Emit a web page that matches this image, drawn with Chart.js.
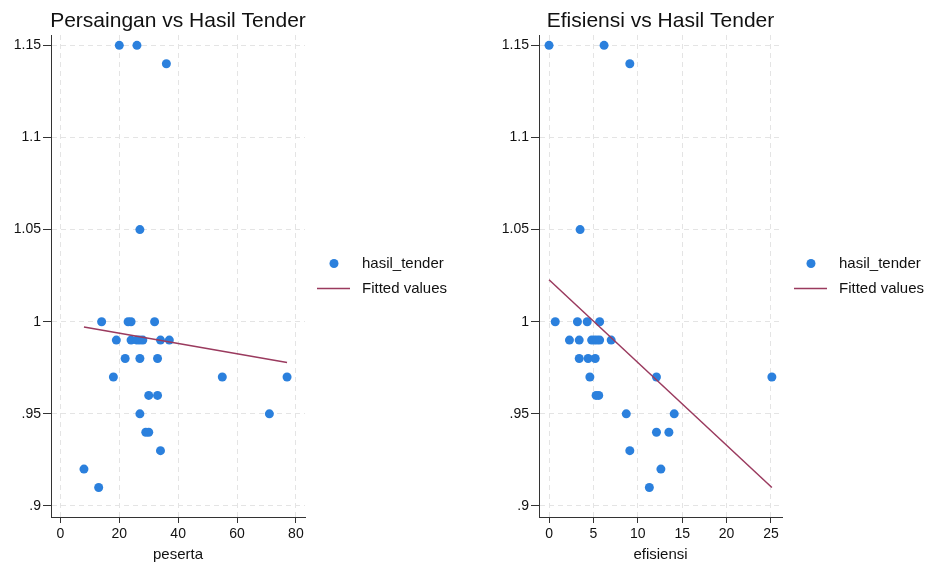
<!DOCTYPE html>
<html>
<head>
<meta charset="utf-8">
<script src="https://cdn.jsdelivr.net/npm/chart.js@4"></script>
<style>
  html, body { margin: 0; padding: 0; background: #fff; }
  #wrap { position: relative; width: 930px; height: 566px; }
  canvas { position: absolute; top: 0; }
</style>
</head>
<body>
<div id="wrap">
  <canvas id="left" width="465" height="566" style="left:0"></canvas>
  <canvas id="right" width="465" height="566" style="left:465px"></canvas>
</div>
<script>
// hasil_tender, grouped by level (same order for both x arrays)
var hasilTender = [1.15, 1.15, 1.14, 1.05,
    1.00, 1.00, 1.00, 1.00,
    0.99, 0.99, 0.99, 0.99, 0.99, 0.99, 0.99,
    0.98, 0.98, 0.98,
    0.97, 0.97, 0.97,
    0.96, 0.96,
    0.95, 0.95,
    0.94, 0.94,
    0.93, 0.92, 0.91]

var peserta = [20, 26, 36, 27,
    14, 23, 24, 32,
    19, 24, 26, 27, 28, 34, 37,
    22, 27, 33,
    18, 55, 77,
    30, 33,
    27, 71,
    29, 30,
    34, 8, 13]

var efisiensi = [0, 6.2, 9.1, 3.5,
    0.7, 3.2, 4.3, 5.7,
    2.3, 3.4, 4.8, 5.1, 5.4, 5.7, 7.0,
    3.4, 4.4, 5.2,
    4.6, 12.1, 25.1,
    5.3, 5.6,
    8.7, 14.1,
    12.1, 13.5,
    9.1, 12.6, 11.3]

// fitted line end points
var fitPesertaX = [8, 77]
var fitPesertaY = [0.9971, 0.9778]
var fitEfisiensiX = [0, 25.1]
var fitEfisiensiY = [1.0228, 0.910]

var yTicks = [0.9, 0.95, 1, 1.05, 1.1, 1.15]
var pesertaTicks = [0, 20, 40, 60, 80]
var efisiensiTicks = [0, 5, 10, 15, 20, 25]

var BLUE = '#2b80dd'
var LINE = '#9a3a5e'
var FONT = '"Liberation Sans", Arial, Helvetica, sans-serif'

Chart.defaults.font.family = FONT
Chart.defaults.color = '#111'

function fmtY(v) {
    return String(+Number(v).toFixed(2)).replace(/^0\./, '.')
}

var annot = {
    id: 'annot',
    afterDraw(chart, args, opts) {
        var a = chart.chartArea, ctx = chart.ctx
        ctx.save()
        ctx.fillStyle = '#111'
        ctx.font = '21px ' + FONT
        ctx.textAlign = 'center'
        ctx.textBaseline = 'alphabetic'
        ctx.fillText(opts.title, (a.left + a.right) / 2, 27)

        var cy = (a.top + a.bottom) / 2
        ctx.fillStyle = BLUE
        ctx.beginPath()
        ctx.arc(a.right + 29, cy - 12.5, 4.5, 0, Math.PI * 2)
        ctx.fill()
        ctx.strokeStyle = LINE
        ctx.lineWidth = 1.5
        ctx.beginPath()
        ctx.moveTo(a.right + 12, cy + 12.5)
        ctx.lineTo(a.right + 45, cy + 12.5)
        ctx.stroke()
        ctx.fillStyle = '#111'
        ctx.font = '15px ' + FONT
        ctx.textAlign = 'left'
        ctx.textBaseline = 'middle'
        ctx.fillText('hasil_tender', a.right + 57, cy - 12.5)
        ctx.fillText('Fitted values', a.right + 57, cy + 12.5)
        ctx.restore()
    }
}

function makeChart(id, xs, fitX, fitY, xMin, xMax, xTicks, xTitle, title, padL, padR) {
    var ctx = document.getElementById(id).getContext('2d')
    return new Chart(ctx, {
        type: 'scatter',
        data: {
            datasets: [{
                label: 'hasil_tender',
                data: xs.map((x, i) => ({ x: x, y: hasilTender[i] })),
                backgroundColor: BLUE,
                borderColor: BLUE,
                borderWidth: 0,
                pointRadius: 4.5,
                pointHoverRadius: 4.5,
                order: 1
            }, {
                label: 'Fitted values',
                type: 'line',
                data: fitX.map((x, i) => ({ x: x, y: fitY[i] })),
                borderColor: LINE,
                borderWidth: 1.5,
                pointRadius: 0,
                fill: false,
                order: 0
            }]
        },
        options: {
            responsive: false,
            animation: false,
            layout: { padding: { left: padL, right: padR, top: 35, bottom: 0 } },
            plugins: {
                legend: { display: false },
                tooltip: { enabled: false },
                annot: { title: title }
            },
            scales: {
                x: {
                    type: 'linear',
                    min: xMin,
                    max: xMax,
                    afterBuildTicks: s => { s.ticks = xTicks.map(v => ({ value: v })) },
                    afterFit: s => { s.height = 49; s.paddingLeft = 0; s.paddingRight = 0 },
                    grid: { color: '#e4e4e4', lineWidth: 1, tickLength: 6, tickColor: '#333', tickWidth: 1, tickBorderDash: [] },
                    border: { display: true, color: '#333', width: 1, dash: [5, 4] },
                    ticks: { color: '#111', font: { size: 14 }, padding: 3, maxRotation: 0, autoSkip: false },
                    title: { display: true, text: xTitle, color: '#111', font: { size: 15 }, padding: { top: 0, bottom: 2 } }
                },
                y: {
                    type: 'linear',
                    min: 0.894,
                    max: 1.1556,
                    afterBuildTicks: s => { s.ticks = yTicks.map(v => ({ value: v })) },
                    afterFit: s => { s.width = 51; s.paddingTop = 0; s.paddingBottom = 0 },
                    grid: { color: '#e4e4e4', lineWidth: 1, tickLength: 8, tickColor: '#333', tickWidth: 1, tickBorderDash: [] },
                    border: { display: true, color: '#333', width: 1, dash: [5, 4] },
                    ticks: { color: '#111', font: { size: 14 }, padding: 2, callback: v => fmtY(v) }
                }
            }
        },
        plugins: [annot]
    })
}

document.addEventListener("DOMContentLoaded", () => {
    makeChart('left', peserta, fitPesertaX, fitPesertaY, -3.2, 83.1, pesertaTicks, 'peserta',
        'Persaingan vs Hasil Tender', 0, 160)
    makeChart('right', efisiensi, fitEfisiensiX, fitEfisiensiY, -1.13, 26.24, efisiensiTicks, 'efisiensi',
        'Efisiensi vs Hasil Tender', 23, 148)
})
</script>
</body>
</html>
